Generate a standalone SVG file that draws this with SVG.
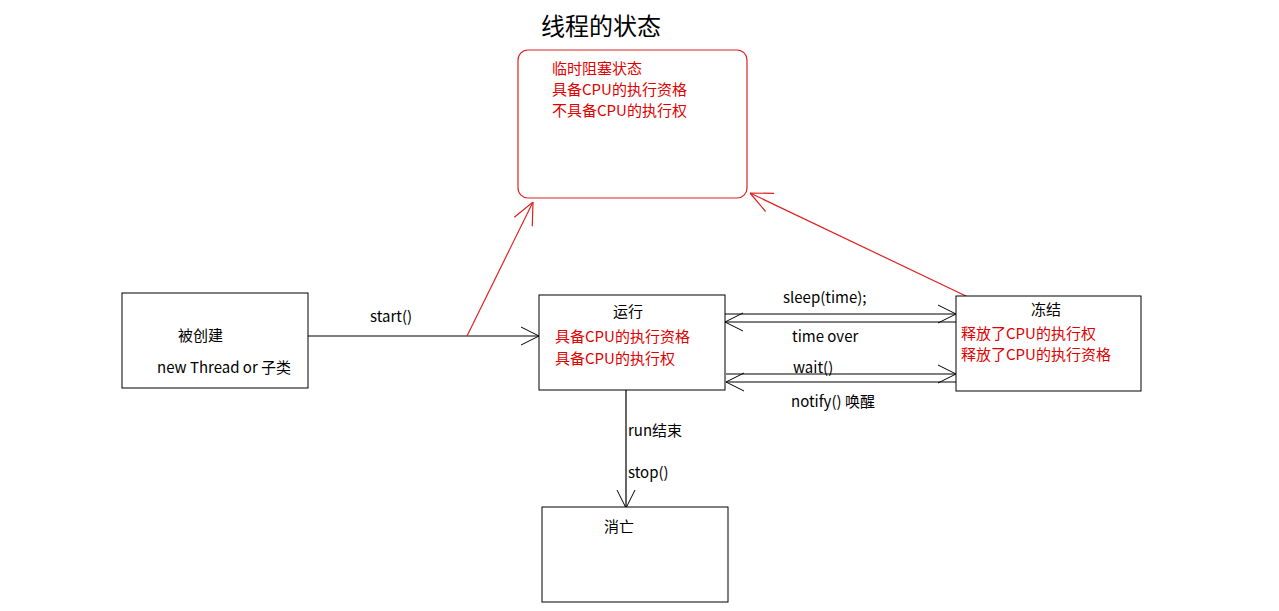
<svg xmlns="http://www.w3.org/2000/svg" width="1279" height="611" viewBox="0 0 1279 611">
<style>
text{font-family:"Microsoft YaHei","Noto Sans CJK SC",sans-serif;font-size:15px;fill:#000}
.r{fill:#e00000}
.box{fill:#fff;stroke:#000;stroke-width:1}
.c{stroke:#000;stroke-width:1.2;fill:none}
.cr{stroke:#e02020;stroke-width:1.2;fill:none}
</style>
<defs>
<marker id="a" viewBox="0 0 20 20" refX="20" refY="10" markerWidth="20" markerHeight="20" markerUnits="userSpaceOnUse" orient="auto"><path d="M2,1 L20,10 L2,19" fill="none" stroke="#000" stroke-width="1"/></marker>
<marker id="ar" viewBox="0 0 24 24" refX="24" refY="12" markerWidth="24" markerHeight="24" markerUnits="userSpaceOnUse" orient="auto"><path d="M2,2 L24,12 L2,22" fill="none" stroke="#e02020" stroke-width="1.2"/></marker>
</defs>
<rect width="1279" height="611" fill="#fff"/>
<text x="541" y="35" style="font-size:24px">线程的状态</text>
<g id="connectors">
<line class="c" x1="308" y1="336" x2="539" y2="336" marker-end="url(#a)"/>
<line class="cr" x1="467" y1="336" x2="533" y2="202" marker-end="url(#ar)"/>
<line class="cr" x1="968" y1="297" x2="750" y2="193" marker-end="url(#ar)"/>
<line class="c" x1="725" y1="314" x2="956" y2="314" marker-end="url(#a)"/>
<line class="c" x1="956" y1="322" x2="725" y2="322" marker-end="url(#a)"/>
<line class="c" x1="726" y1="374" x2="956" y2="374" marker-end="url(#a)"/>
<line class="c" x1="956" y1="382" x2="726" y2="382" marker-end="url(#a)"/>
<line class="c" x1="626" y1="390" x2="626" y2="508" marker-end="url(#a)"/>
<text x="370" y="322">start()</text>
<text x="783" y="303">sleep(time);</text>
<text x="792" y="342">time over</text>
<text x="793" y="373">wait()</text>
<text x="791" y="407">notify() 唤醒</text>
<text x="628" y="436">run结束</text>
<text x="628" y="478">stop()</text>
</g>
<g id="blocked">
<rect x="518" y="50" width="229" height="148" rx="10" fill="#fff" stroke="#e02020" stroke-width="1.2"/>
<text class="r" x="552" y="74">临时阻塞状态</text>
<text class="r" x="552" y="95">具备CPU的执行资格</text>
<text class="r" x="552" y="116">不具备CPU的执行权</text>
</g>
<g id="created">
<rect class="box" x="122" y="293" width="186" height="95"/>
<text x="178" y="341">被创建</text>
<text x="157" y="373">new Thread or 子类</text>
</g>
<g id="running">
<rect class="box" x="539" y="295" width="186" height="95"/>
<text x="613" y="317">运行</text>
<text class="r" x="555" y="342">具备CPU的执行资格</text>
<text class="r" x="555" y="364">具备CPU的执行权</text>
</g>
<g id="frozen">
<rect class="box" x="956" y="296" width="185" height="95"/>
<text x="1031" y="315">冻结</text>
<text class="r" x="961" y="339">释放了CPU的执行权</text>
<text class="r" x="961" y="360">释放了CPU的执行资格</text>
</g>
<g id="dead">
<rect class="box" x="542" y="507" width="186" height="95"/>
<text x="604" y="532">消亡</text>
</g>
</svg>
